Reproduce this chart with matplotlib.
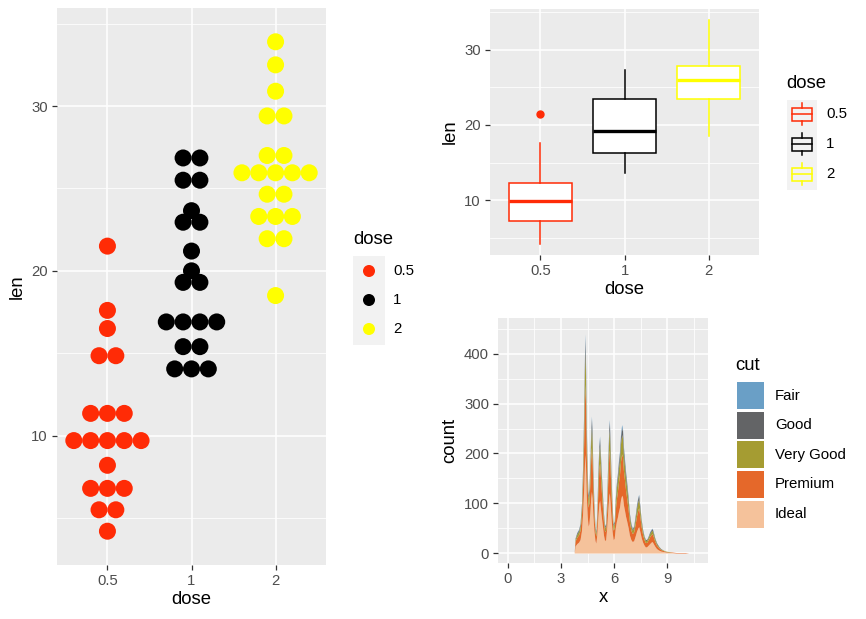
import numpy as np
import matplotlib
matplotlib.use("Agg")
import matplotlib.pyplot as plt
from matplotlib.patches import Rectangle

plt.rcParams['font.family'] = ['Liberation Sans', 'DejaVu Sans']

# ---------------- data ----------------
doses = ["0.5", "1", "2"]
dose_colors = ["#FF2B06", "#000000", "#FFFF00"]

# dot plot: bin centres (len) and number of stacked dots, per dose
bins_05 = [21.5, 17.6, 16.5, 14.85, 11.35, 9.7, 8.2, 6.8, 5.5, 4.2]
cnt_05 = [1, 1, 1, 2, 3, 5, 1, 3, 2, 1]
bins_1 = [26.85, 25.5, 23.65, 22.95, 21.2, 20.0, 19.3, 16.9, 15.4, 14.05]
cnt_1 = [2, 2, 1, 2, 1, 1, 2, 4, 2, 3]
bins_2 = [33.9, 32.5, 30.9, 29.4, 27.0, 25.95, 24.65, 23.3, 21.95, 18.5]
cnt_2 = [1, 1, 1, 2, 2, 5, 2, 3, 2, 1]

# boxplot statistics per dose
box_med = [9.85, 19.25, 25.95]
box_q1 = [7.2, 16.25, 23.5]
box_q3 = [12.25, 23.4, 27.8]
box_lo = [4.2, 13.6, 18.5]
box_hi = [17.6, 27.3, 33.9]
box_out = [[21.5], [], []]

# stacked area of diamonds x by cut
cuts = ["Fair", "Good", "Very Good", "Premium", "Ideal"]
cut_colors = ["#6A9FC6", "#636466", "#A59C32", "#E5682A", "#F5C29B"]
hx = [3.75, 3.80, 3.90, 4.00, 4.08, 4.16, 4.22, 4.28, 4.33, 4.36, 4.39, 4.43,
      4.48, 4.53, 4.58, 4.63, 4.68, 4.72, 4.76, 4.80, 4.86, 4.92, 4.97, 5.02,
      5.08, 5.14, 5.18, 5.22, 5.28, 5.34, 5.40, 5.46, 5.52, 5.58, 5.64, 5.70,
      5.73, 5.77, 5.82, 5.88, 5.94, 6.00, 6.06, 6.12, 6.18, 6.24, 6.30, 6.36,
      6.42, 6.47, 6.52, 6.58, 6.64, 6.70, 6.78, 6.86, 6.94, 7.02, 7.10, 7.18,
      7.26, 7.33, 7.38, 7.44, 7.52, 7.60, 7.68, 7.76, 7.84, 7.92, 8.00, 8.08,
      8.14, 8.20, 8.28, 8.38, 8.50, 8.62, 8.76, 8.90, 9.05, 9.25, 9.50, 9.75,
      10.0, 10.2]
ideal = [0, 14, 19, 22, 27, 45, 77, 126, 180, 198, 171, 117,
         77, 54, 59, 81, 110, 124, 110, 77, 45, 25, 20, 36,
         72, 99, 106, 92, 72, 54, 36, 25, 27, 50, 86, 115,
         121, 101, 72, 45, 27, 29, 50, 63, 72, 83, 92, 108,
         116, 113, 97, 86, 74, 65, 52, 36, 27, 23, 25, 34,
         44, 50, 53, 44, 31, 22, 16, 12, 13, 16, 19, 22,
         23, 19, 14, 9, 6, 4, 3, 2, 1, 1, 0, 0,
         0, 0]
premium = [0, 10, 13, 15, 19, 32, 54, 90, 128, 141, 122, 83,
           54, 38, 42, 58, 78, 88, 78, 54, 32, 18, 14, 26,
           51, 70, 75, 66, 51, 38, 26, 18, 19, 35, 61, 82,
           86, 72, 51, 32, 19, 21, 35, 45, 51, 59, 66, 77,
           83, 80, 69, 61, 53, 46, 37, 26, 19, 16, 18, 24,
           31, 36, 38, 31, 22, 15, 11, 9, 9, 11, 14, 15,
           16, 14, 10, 7, 5, 3, 2, 1, 1, 1, 1, 1,
           1, 0]
very_good = [0, 4, 6, 7, 9, 15, 26, 42, 60, 66, 57, 39,
             26, 18, 19, 27, 37, 41, 37, 26, 15, 8, 7, 12,
             24, 33, 35, 31, 24, 18, 12, 8, 9, 16, 28, 38,
             40, 34, 24, 15, 9, 10, 16, 21, 24, 28, 31, 36,
             39, 37, 32, 28, 25, 22, 17, 12, 9, 7, 8, 11,
             15, 17, 18, 15, 10, 7, 5, 4, 4, 5, 6, 7,
             7, 6, 5, 3, 2, 1, 1, 1, 1, 0, 0, 0,
             0, 0]
good = [0, 2, 3, 3, 4, 6, 10, 17, 24, 26, 23, 16,
        10, 7, 8, 11, 15, 17, 15, 10, 6, 3, 3, 5,
        10, 13, 14, 12, 10, 7, 5, 3, 4, 7, 11, 15,
        16, 14, 10, 6, 4, 4, 7, 8, 10, 11, 12, 14,
        15, 15, 13, 11, 10, 9, 7, 5, 4, 3, 3, 5,
        6, 7, 7, 6, 4, 3, 2, 2, 2, 2, 3, 3,
        3, 3, 2, 2, 1, 1, 0, 0, 0, 0, 0, 0,
        0, 0]
fair = [0, 0, 1, 1, 1, 2, 3, 5, 8, 9, 7, 5,
        3, 3, 2, 3, 5, 5, 5, 3, 2, 1, 1, 1,
        3, 5, 5, 4, 3, 3, 1, 1, 1, 2, 4, 5,
        5, 4, 3, 2, 1, 1, 2, 3, 3, 4, 4, 5,
        5, 5, 4, 4, 3, 3, 2, 1, 1, 1, 1, 1,
        2, 2, 2, 2, 1, 1, 1, 0, 0, 1, 1, 1,
        1, 1, 0, 0, 0, 0, 0, 0, 0, 0, 0, 0,
        0, 0]

# ---------------- style ----------------
W, H = 866, 619
BG = "#EBEBEB"
TICK_TXT = "#4D4D4D"
TICK_FS = 10.7
TITLE_FS = 13.3
LEG_FS = 10.8


def gg_axes(ax):
    ax.set_facecolor(BG)
    for s in ax.spines.values():
        s.set_visible(False)
    ax.grid(True, which="major", color="white", lw=1.1)
    ax.grid(True, which="minor", color="white", lw=0.55)
    ax.set_axisbelow(True)
    ax.tick_params(which="major", length=3.5, width=0.9, color="#333333",
                   labelcolor=TICK_TXT, labelsize=TICK_FS, pad=3)
    ax.tick_params(which="minor", length=0)


def px_axes(x0, y0, x1, y1):
    return fig.add_axes([x0 / W, 1 - y1 / H, (x1 - x0) / W, (y1 - y0) / H])


fig = plt.figure(figsize=(W / 100, H / 100), dpi=100)
fig.patch.set_facecolor("white")

# ---------------- dot plot ----------------
ax1 = px_axes(57, 8, 326, 565)
gg_axes(ax1)
spacing = 0.2
for i, (b, c) in enumerate([(bins_05, cnt_05), (bins_1, cnt_1), (bins_2, cnt_2)]):
    for yv, n in zip(b, c):
        xs = i + 1 + (np.arange(n) - (n - 1) / 2) * spacing
        ax1.scatter(xs, [yv] * n, s=150, color=dose_colors[i], edgecolors="none", zorder=3)
ax1.set_xlim(0.4, 3.6)
ax1.set_ylim(2.15, 35.95)
ax1.set_xticks([1, 2, 3])
ax1.set_xticklabels(doses)
ax1.set_yticks([10, 20, 30])
ax1.set_yticks([5, 15, 25, 35], minor=True)
ax1.set_xlabel("dose", fontsize=TITLE_FS, labelpad=2)
ax1.set_ylabel("len", fontsize=TITLE_FS, labelpad=4)

# ---------------- box plot ----------------
ax2 = px_axes(490, 9, 759, 255)
gg_axes(ax2)
for i in range(3):
    st = [dict(med=box_med[i], q1=box_q1[i], q3=box_q3[i], whislo=box_lo[i],
               whishi=box_hi[i], fliers=box_out[i])]
    col = dose_colors[i]
    ax2.bxp(st, positions=[i + 1], widths=0.75, patch_artist=True, showcaps=False,
            boxprops=dict(facecolor="white", edgecolor=col, lw=1.1),
            medianprops=dict(color=col, lw=2.4),
            whiskerprops=dict(color=col, lw=1.1),
            flierprops=dict(marker="o", markerfacecolor=col, markeredgecolor=col,
                            markersize=5),
            manage_ticks=False, zorder=3)
ax2.set_xlim(0.4, 3.6)
ax2.set_ylim(2.72, 35.39)
ax2.set_xticks([1, 2, 3])
ax2.set_xticklabels(doses)
ax2.set_yticks([10, 20, 30])
ax2.set_yticks([5, 15, 25, 35], minor=True)
ax2.set_xlabel("dose", fontsize=TITLE_FS, labelpad=2)
ax2.set_ylabel("len", fontsize=TITLE_FS, labelpad=4)

# ---------------- stacked area ----------------
ax3 = px_axes(498, 318, 708, 563)
gg_axes(ax3)
layers = [fair, good, very_good, premium, ideal]
base = np.zeros(len(hx))
for k in range(len(cuts) - 1, -1, -1):
    top = base + np.array(layers[k])
    ax3.fill_between(hx, base, top, color=cut_colors[k], lw=0, zorder=3)
    base = top
ax3.set_xlim(-0.537, 11.28)
ax3.set_ylim(-20, 472)
ax3.set_xticks([0, 3, 6, 9])
ax3.set_xticks([1.5, 4.5, 7.5, 10.5], minor=True)
ax3.set_yticks([0, 100, 200, 300, 400])
ax3.set_yticks([50, 150, 250, 350, 450], minor=True)
ax3.set_xlabel("x", fontsize=TITLE_FS, labelpad=2)
ax3.set_ylabel("count", fontsize=TITLE_FS, labelpad=4)

# ---------------- legends (pixel overlay) ----------------
ov = fig.add_axes([0, 0, 1, 1])
ov.set_xlim(0, W)
ov.set_ylim(H, 0)
ov.axis("off")
KEY_BG = "#F2F2F2"

# dot legend
ov.text(353, 239, "dose", fontsize=TITLE_FS, va="center", ha="left")
ov.add_patch(Rectangle((353, 256), 32, 89, color=KEY_BG, lw=0))
for j, yk in enumerate([271, 300, 329]):
    ov.scatter([369], [yk], s=75, color=dose_colors[j], edgecolors="none")
    ov.text(393, yk, doses[j], fontsize=LEG_FS, va="center", color="black")

# box legend
ov.text(786, 84, "dose", fontsize=TITLE_FS, va="center", ha="left")
ov.add_patch(Rectangle((787, 100), 30, 90, color=KEY_BG, lw=0))
for j, yk in enumerate([114, 144, 174]):
    col = dose_colors[j]
    ov.add_patch(Rectangle((792, yk - 6.5), 20, 13, fill=False, edgecolor=col, lw=1.1))
    ov.plot([792, 812], [yk, yk], color=col, lw=1.1)
    ov.plot([802, 802], [yk - 11, yk - 6.5], color=col, lw=1.1)
    ov.plot([802, 802], [yk + 6.5, yk + 11], color=col, lw=1.1)
    ov.text(826, yk, doses[j], fontsize=LEG_FS, va="center", color="black")

# cut legend
ov.text(735, 365, "cut", fontsize=TITLE_FS, va="center", ha="left")
for j, yk in enumerate([395.5, 425.2, 454.8, 484.5, 514.2]):
    ov.add_patch(Rectangle((737, yk - 13.5), 27, 27, color=cut_colors[j], lw=0))
    ov.text(775, yk, cuts[j], fontsize=LEG_FS, va="center", color="black")

fig.savefig("out.png", dpi=100)
